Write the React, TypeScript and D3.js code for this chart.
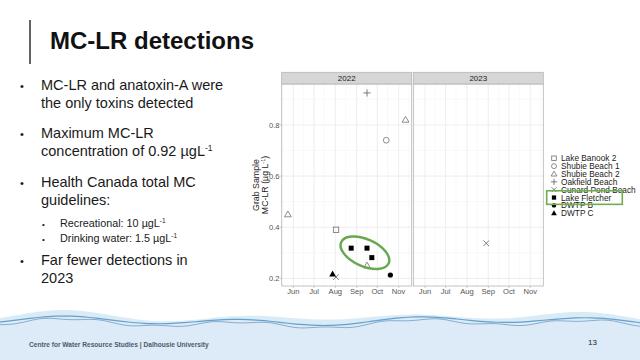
import React from "react";
import * as d3 from "d3";

const sites = ["Lake Banook 2", "Shubie Beach 1", "Shubie Beach 2", "Oakfield Beach", "Cunard Pond Beach", "Lake Fletcher", "DWTP B", "DWTP C"];
const shapes = ["sqOpen", "circOpen", "triOpen", "plus", "cross", "sqFill", "circFill", "triFill"];
const years = [2022, 2023];
const obsSite = ["Lake Banook 2", "Shubie Beach 1", "Shubie Beach 2", "Shubie Beach 2", "Shubie Beach 2", "Oakfield Beach", "Cunard Pond Beach", "Cunard Pond Beach", "Lake Fletcher", "Lake Fletcher", "Lake Fletcher", "DWTP B", "DWTP C"];
const obsDate = ["2022-08-02", "2022-10-14", "2022-05-24", "2022-09-16", "2022-11-11", "2022-09-16", "2022-08-02", "2023-08-29", "2022-08-24", "2022-09-16", "2022-09-23", "2022-10-20", "2022-07-28"];
const obsValue = [0.39, 0.74, 0.45, 0.25, 0.82, 0.925, 0.205, 0.337, 0.318, 0.318, 0.281, 0.213, 0.217];
const yTicks = [0.2, 0.4, 0.6, 0.8];
const yMinor = [0.3, 0.5, 0.7, 0.9];
const monthLabels = ["Jun", "Jul", "Aug", "Sep", "Oct", "Nov"];

const bullets = [
  { lines: ["MC-LR and anatoxin-A were", "the only toxins detected"], sup: [null, null] },
  { lines: ["Maximum MC-LR", "concentration of 0.92 µgL"], sup: [null, "-1"] },
  { lines: ["Health Canada total MC", "guidelines:"], sup: [null, null] },
];
const subBullets = [
  { text: "Recreational: 10 µgL", sup: "-1" },
  { text: "Drinking water: 1.5 µgL", sup: "-1" },
];
const lastBullet = ["Far fewer detections in", "2023"];

const parse = d3.timeParse("%Y-%m-%d");

function Shape({ kind, x, y, s = 1 }: { kind: string; x: number; y: number; s?: number }) {
  const grey = "#6e6e6e";
  switch (kind) {
    case "sqOpen":
      return <rect x={x - 2.7 * s} y={y - 2.7 * s} width={5.4 * s} height={5.4 * s} fill="none" stroke={grey} strokeWidth={0.8} />;
    case "circOpen":
      return <circle cx={x} cy={y} r={2.9 * s} fill="none" stroke={grey} strokeWidth={0.8} />;
    case "triOpen":
      return <path d={`M${x},${y - 3.4 * s}L${x + 3.4 * s},${y + 2.4 * s}L${x - 3.4 * s},${y + 2.4 * s}Z`} fill="none" stroke={grey} strokeWidth={0.8} />;
    case "plus":
      return <path d={`M${x - 3.6 * s},${y}H${x + 3.6 * s}M${x},${y - 3.6 * s}V${y + 3.6 * s}`} stroke={grey} strokeWidth={0.9} />;
    case "cross":
      return <path d={`M${x - 2.8 * s},${y - 2.8 * s}L${x + 2.8 * s},${y + 2.8 * s}M${x - 2.8 * s},${y + 2.8 * s}L${x + 2.8 * s},${y - 2.8 * s}`} stroke={grey} strokeWidth={0.9} />;
    case "sqFill":
      return <rect x={x - 2.5 * s} y={y - 2.5 * s} width={5 * s} height={5 * s} fill="#000" />;
    case "circFill":
      return <circle cx={x} cy={y} r={2.6 * s} fill="#000" />;
    case "triFill":
      return <path d={`M${x},${y - 3.4 * s}L${x + 3.4 * s},${y + 2.4 * s}L${x - 3.4 * s},${y + 2.4 * s}Z`} fill="#000" />;
  }
  return null;
}

export default function App() {
  const W = 640, H = 360;
  const top = 84, bottom = 286;
  const panelX = [281.7, 413.3];
  const panelW = 130;
  const stripH = 11.7;
  const y = d3.scaleLinear().domain([0.17, 0.96]).range([bottom, top]);
  const shapeOf = d3.scaleOrdinal<string, string>().domain(sites).range(shapes);

  const xScale = (yr: number, i: number) =>
    d3.scaleTime().domain([new Date(yr, 4, 15), new Date(yr, 10, 20)]).range([panelX[i], panelX[i] + panelW]);

  const bodyFont = "'Liberation Sans', Arial, sans-serif";

  // footer wave
  const waveX = d3.range(0, 641, 8);
  const waveY = (x: number) => 321 - 3.2 * Math.sin((x - 20) / 28) - 1.8 * Math.sin((x + 40) / 67);
  const waveLine = d3.line<number>().x((d) => d).y((d) => waveY(d)).curve(d3.curveBasis);
  const waveArea = d3.area<number>().x((d) => d).y0(H).y1((d) => waveY(d)).curve(d3.curveBasis);
  const waveLine2 = d3.line<number>().x((d) => d).y((d) => waveY(d) + 2.5 + 1.2 * Math.sin(d / 9)).curve(d3.curveBasis);
  const hiArea = d3.area<number>().x((d) => d).y0((d) => waveY(d)).y1((d) => waveY(d) - 4 - 2 * Math.sin(d / 40)).curve(d3.curveBasis);

  const lineH = 18.3;
  const bulletStarts = [90, 138, 186.7];

  // legend
  const legX = 554, legTextX = 561, legY0 = 158.3, legStep = 7.85;
  const fletcherIdx = sites.indexOf("Lake Fletcher");

  // ellipse annotation
  const ex = xScale(2022, 0)(parse("2022-09-13")!);
  const ey = y(0.3);

  return (
    <svg width={W} height={H} style={{ position: "absolute", left: 0, top: 0, background: "#fff" }}>
      <rect x={0} y={0} width={W} height={H} fill="#fff" />
      {/* title */}
      <line x1={30} x2={30} y1={20} y2={64} stroke="#111" strokeWidth={1.3} />
      <text x={50} y={49} fontFamily={bodyFont} fontWeight="bold" fontSize={24} fill="#111">MC-LR detections</text>

      {/* bullets */}
      <g fontFamily={bodyFont} fill="#1a1a1a">
        {bullets.map((b, bi) => (
          <g key={bi}>
            <text x={20} y={bulletStarts[bi]} fontSize={11}>•</text>
            {b.lines.map((ln, li) => (
              <text key={li} x={41} y={bulletStarts[bi] + li * lineH} fontSize={14.5}>
                {ln}
                {b.sup[li] && <tspan fontSize={8.5} dy={-5.5}>{b.sup[li]}</tspan>}
              </text>
            ))}
          </g>
        ))}
        {subBullets.map((sb, i) => (
          <g key={i}>
            <text x={42} y={226.7 + i * 15} fontSize={8}>•</text>
            <text x={60} y={226.7 + i * 15} fontSize={10.8}>
              {sb.text}
              <tspan fontSize={6.5} dy={-4}>{sb.sup}</tspan>
            </text>
          </g>
        ))}
        <text x={20} y={265} fontSize={11}>•</text>
        {lastBullet.map((ln, i) => (
          <text key={i} x={41} y={265 + i * 17.7} fontSize={14.5}>{ln}</text>
        ))}
      </g>

      {/* panels */}
      <g fontFamily={bodyFont}>
        {years.map((yr, i) => {
          const x = xScale(yr, i);
          const months = d3.timeMonth.range(new Date(yr, 5, 1), new Date(yr, 10, 2));
          const minorM = d3.timeDay.range(new Date(yr, 4, 16), new Date(yr, 10, 17), 1).filter((d) => d.getDate() === 16);
          const pts = obsDate.map((d, k) => ({ d: parse(d)!, v: obsValue[k], s: obsSite[k] })).filter((p) => p.d.getFullYear() === yr);
          return (
            <g key={yr}>
              <rect x={panelX[i]} y={top} width={panelW} height={bottom - top} fill="#fff" />
              {minorM.map((m, k) => (
                <line key={"mx" + k} x1={x(m)} x2={x(m)} y1={top} y2={bottom} stroke="#f2f2f2" strokeWidth={0.5} />
              ))}
              {yMinor.map((v) => (
                <line key={"my" + v} x1={panelX[i]} x2={panelX[i] + panelW} y1={y(v)} y2={y(v)} stroke="#f2f2f2" strokeWidth={0.5} />
              ))}
              {months.map((m, k) => (
                <line key={"gx" + k} x1={x(m)} x2={x(m)} y1={top} y2={bottom} stroke="#e6e6e6" strokeWidth={0.7} />
              ))}
              {yTicks.map((v) => (
                <line key={"gy" + v} x1={panelX[i]} x2={panelX[i] + panelW} y1={y(v)} y2={y(v)} stroke="#e6e6e6" strokeWidth={0.7} />
              ))}
              <rect x={panelX[i]} y={top} width={panelW} height={bottom - top} fill="none" stroke="#b5b5b5" strokeWidth={0.8} />
              <rect x={panelX[i]} y={top - stripH} width={panelW} height={stripH} fill="#d6d6d6" stroke="#b5b5b5" strokeWidth={0.8} />
              <text x={panelX[i] + panelW / 2} y={top - 3} textAnchor="middle" fontSize={8} fill="#1a1a1a">{yr}</text>
              {months.map((m, k) => (
                <g key={"t" + k}>
                  <line x1={x(m)} x2={x(m)} y1={bottom} y2={bottom + 2} stroke="#b5b5b5" strokeWidth={0.7} />
                  <text x={x(m)} y={293.5} textAnchor="middle" fontSize={7.6} fill="#555">{monthLabels[k]}</text>
                </g>
              ))}
              {pts.map((p, k) => (
                <Shape key={k} kind={shapeOf(p.s)} x={x(p.d)} y={y(p.v)} />
              ))}
            </g>
          );
        })}
        {yTicks.map((v) => (
          <g key={"yl" + v}>
            <line x1={panelX[0] - 2} x2={panelX[0]} y1={y(v)} y2={y(v)} stroke="#b5b5b5" strokeWidth={0.7} />
            <text x={279.5} y={y(v) + 2.8} textAnchor="end" fontSize={7.6} fill="#555">{v.toFixed(1)}</text>
          </g>
        ))}
        <g transform={`translate(258.5, ${(top + bottom) / 2}) rotate(-90)`}>
          <text x={0} y={0} textAnchor="middle" fontSize={8.8} fill="#222">Grab Sample</text>
          <text x={0} y={9} textAnchor="middle" fontSize={8.8} fill="#222">
            MC-LR (µg L<tspan fontSize={5.5} dy={-3}>-1</tspan><tspan dy={3}>)</tspan>
          </text>
        </g>

        {/* legend */}
        {sites.map((s, k) => (
          <g key={s}>
            <Shape kind={shapeOf(s)} x={legX} y={legY0 + k * legStep} s={0.85} />
            <text x={legTextX} y={legY0 + k * legStep + 3} fontSize={8.3} fill="#1a1a1a">{s}</text>
          </g>
        ))}
        <rect x={546.7} y={legY0 + fletcherIdx * legStep - 6.8} width={75.6} height={13.6} fill="none" stroke="#6fad4e" strokeWidth={1.6} />

        {/* annotation ellipse */}
        <ellipse cx={ex} cy={ey} rx={26} ry={13.5} transform={`rotate(24 ${ex} ${ey})`} fill="none" stroke="#6aa84f" strokeWidth={2.4} />
      </g>

      {/* footer */}
      <path d={hiArea(waveX)!} fill="#c9e2f3" opacity={0.7} />
      <path d={waveArea(waveX)!} fill="#dcebf7" />
      <path d={waveLine(waveX)!} fill="none" stroke="#3d86bd" strokeWidth={1.2} opacity={0.75} />
      <path d={waveLine2(waveX)!} fill="none" stroke="#1f5f93" strokeWidth={0.8} opacity={0.55} />
      <text x={29} y={347} fontFamily={bodyFont} fontWeight="bold" fontSize={6.6} fill="#4d5a68">Centre for Water Resource Studies | Dalhousie University</text>
      <text x={588} y={345} fontFamily={bodyFont} fontSize={8} fill="#222">13</text>
    </svg>
  );
}
